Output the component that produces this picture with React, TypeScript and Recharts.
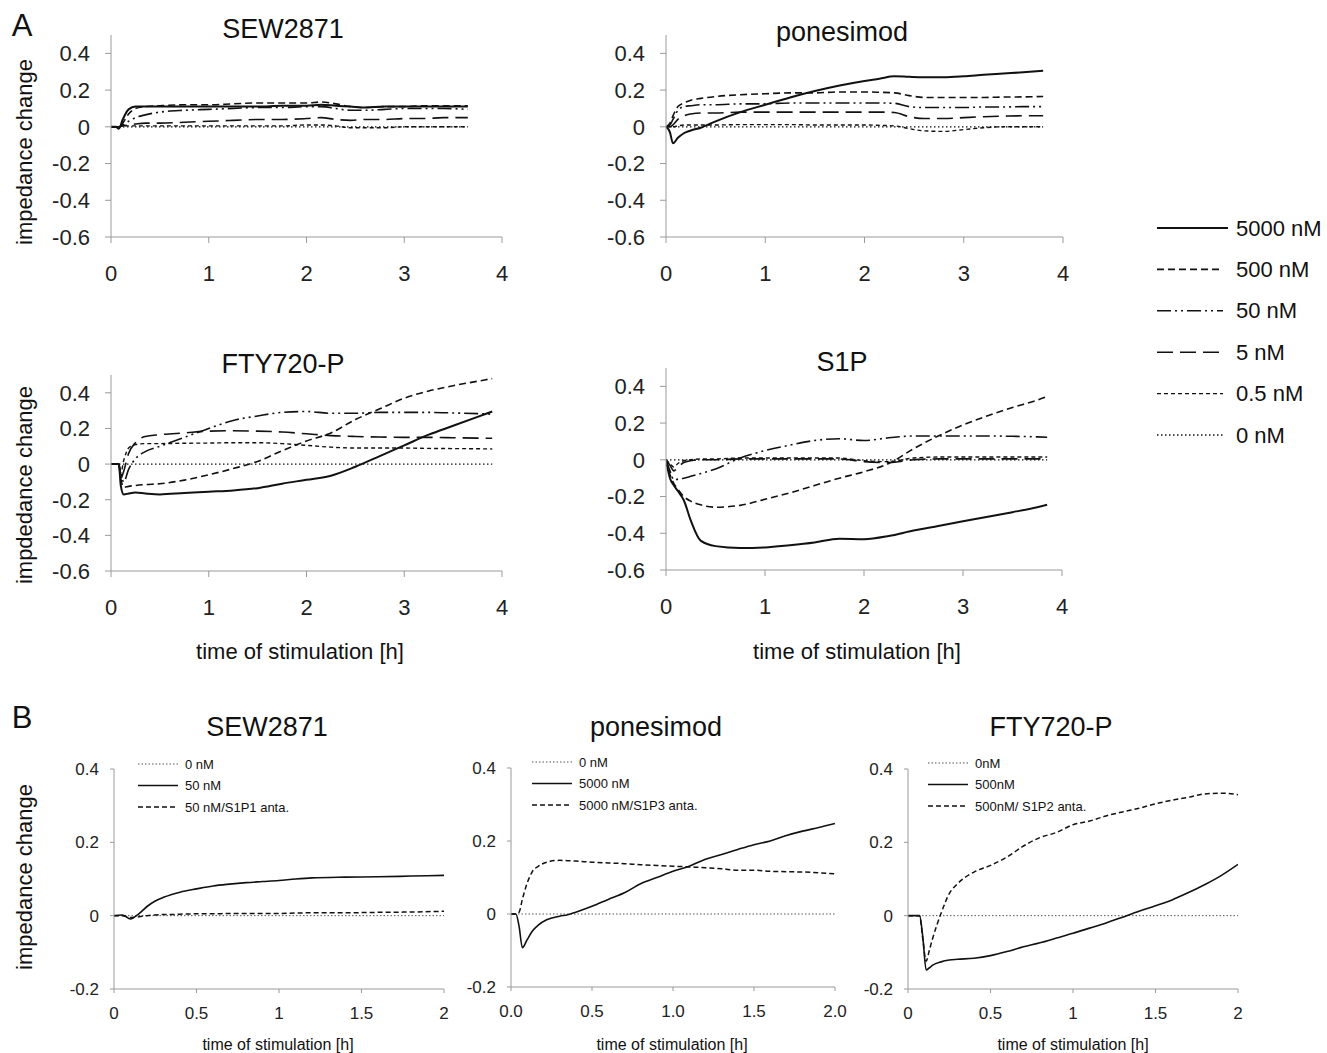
import { LineChart, Line, XAxis, YAxis } from "recharts";

// 軸はグレー、線はすべて黒の線種違い(元図に合わせる)
const AXIS = "#9a9a9a";
const INK = "#111";
const FONT = "'Liberation Sans', Arial, sans-serif";

// ---- A: SEW2871 ----
const T_A_SEW = [0, 0.05, 0.08, 0.12, 0.18, 0.25, 0.35, 0.5, 0.75, 1, 1.25, 1.5, 1.75, 2, 2.15, 2.3, 2.45, 2.6, 2.8, 3, 3.2, 3.4, 3.65];
const A_SEW_5000 = [0, 0, -0.01, 0.04, 0.095, 0.11, 0.11, 0.11, 0.11, 0.11, 0.11, 0.11, 0.115, 0.115, 0.12, 0.115, 0.11, 0.105, 0.11, 0.11, 0.11, 0.11, 0.11];
const A_SEW_500 = [0, 0, 0, 0.02, 0.07, 0.1, 0.11, 0.115, 0.12, 0.12, 0.125, 0.13, 0.13, 0.13, 0.135, 0.125, 0.11, 0.105, 0.11, 0.11, 0.115, 0.115, 0.115];
const A_SEW_50 = [0, 0, 0, 0.01, 0.03, 0.05, 0.065, 0.08, 0.09, 0.095, 0.1, 0.105, 0.105, 0.11, 0.11, 0.1, 0.09, 0.09, 0.095, 0.1, 0.1, 0.1, 0.095];
const A_SEW_5 = [0, 0, 0, 0.005, 0.01, 0.015, 0.02, 0.02, 0.025, 0.03, 0.035, 0.04, 0.04, 0.045, 0.05, 0.04, 0.035, 0.04, 0.04, 0.045, 0.045, 0.05, 0.05];
const A_SEW_05 = [0, 0, 0, 0.005, 0.005, 0.005, 0.005, 0.005, 0.005, 0.005, 0.005, 0.005, 0.005, 0.01, 0.01, 0.005, -0.005, -0.005, -0.005, 0, 0, 0, 0];
const A_SEW_0 = [0, 0, 0, 0, 0, 0, 0, 0, 0, 0, 0, 0, 0, 0, 0, 0, 0, 0, 0, 0, 0, 0, 0];

// ---- A: ponesimod ----
const T_A_PON = [0, 0.04, 0.07, 0.12, 0.18, 0.25, 0.35, 0.5, 0.75, 1, 1.25, 1.5, 1.75, 2, 2.15, 2.3, 2.45, 2.6, 2.8, 3, 3.2, 3.4, 3.6, 3.8];
const A_PON_5000 = [0, -0.03, -0.09, -0.06, -0.035, -0.02, -0.005, 0.03, 0.08, 0.12, 0.16, 0.195, 0.225, 0.25, 0.262, 0.275, 0.272, 0.27, 0.27, 0.275, 0.283, 0.29, 0.297, 0.305];
const A_PON_500 = [0, 0.02, 0.06, 0.11, 0.13, 0.145, 0.155, 0.165, 0.175, 0.18, 0.185, 0.185, 0.19, 0.19, 0.188, 0.185, 0.17, 0.16, 0.16, 0.16, 0.16, 0.162, 0.163, 0.165];
const A_PON_50 = [0, 0.01, 0.04, 0.09, 0.11, 0.115, 0.12, 0.12, 0.125, 0.125, 0.13, 0.13, 0.13, 0.13, 0.13, 0.128, 0.11, 0.105, 0.105, 0.105, 0.108, 0.108, 0.11, 0.11];
const A_PON_5 = [0, 0, 0.01, 0.04, 0.06, 0.07, 0.075, 0.075, 0.08, 0.08, 0.08, 0.08, 0.08, 0.08, 0.08, 0.078, 0.055, 0.045, 0.045, 0.05, 0.055, 0.058, 0.06, 0.06];
const A_PON_05 = [0, 0, 0, 0.005, 0.01, 0.01, 0.01, 0.01, 0.012, 0.012, 0.012, 0.01, 0.01, 0.01, 0.008, 0.005, -0.01, -0.022, -0.025, -0.015, -0.005, 0, 0, 0];
const A_PON_0 = [0, 0, 0, 0, 0, 0, 0, 0, 0, 0, 0, 0, 0, 0, 0, 0, 0, 0, 0, 0, 0, 0, 0, 0];

// ---- A: FTY720-P ----
const T_A_FTY = [0, 0.08, 0.1, 0.13, 0.18, 0.25, 0.35, 0.5, 0.75, 1, 1.25, 1.5, 1.75, 2, 2.25, 2.5, 2.75, 3, 3.25, 3.5, 3.75, 3.9];
const A_FTY_5000 = [0, 0, -0.12, -0.17, -0.165, -0.16, -0.165, -0.17, -0.162, -0.155, -0.148, -0.135, -0.11, -0.088, -0.065, -0.015, 0.045, 0.105, 0.165, 0.215, 0.265, 0.295];
const A_FTY_500 = [0, 0, -0.08, -0.13, -0.125, -0.12, -0.115, -0.11, -0.09, -0.06, -0.025, 0.015, 0.075, 0.13, 0.175, 0.25, 0.31, 0.37, 0.41, 0.44, 0.465, 0.48];
const A_FTY_50 = [0, 0, -0.05, -0.1, -0.03, 0.03, 0.07, 0.1, 0.15, 0.2, 0.245, 0.27, 0.29, 0.295, 0.285, 0.285, 0.29, 0.29, 0.29, 0.287, 0.283, 0.28];
const A_FTY_5 = [0, 0, -0.08, -0.04, 0.06, 0.12, 0.155, 0.165, 0.175, 0.185, 0.187, 0.185, 0.18, 0.17, 0.16, 0.155, 0.152, 0.15, 0.15, 0.148, 0.146, 0.145];
const A_FTY_05 = [0, 0, -0.05, 0.02, 0.09, 0.11, 0.115, 0.115, 0.117, 0.118, 0.12, 0.12, 0.115, 0.105, 0.095, 0.09, 0.09, 0.09, 0.088, 0.087, 0.086, 0.085];
const A_FTY_0 = [0, 0, 0, 0, 0, 0, 0, 0, 0, 0, 0, 0, 0, 0, 0, 0, 0, 0, 0, 0, 0, 0];

// ---- A: S1P ----
const T_A_S1P = [0, 0.04, 0.08, 0.12, 0.18, 0.25, 0.35, 0.5, 0.75, 1, 1.25, 1.5, 1.75, 2, 2.25, 2.5, 2.75, 3, 3.25, 3.5, 3.75, 3.85];
const A_S1P_5000 = [0, -0.1, -0.14, -0.17, -0.22, -0.33, -0.44, -0.47, -0.48, -0.477, -0.465, -0.45, -0.43, -0.432, -0.415, -0.385, -0.36, -0.335, -0.31, -0.285, -0.258, -0.245];
const A_S1P_500 = [0, -0.08, -0.13, -0.16, -0.2, -0.225, -0.245, -0.258, -0.248, -0.215, -0.18, -0.14, -0.1, -0.065, -0.02, 0.06, 0.13, 0.19, 0.24, 0.285, 0.325, 0.345];
const A_S1P_50 = [0, -0.06, -0.11, -0.105, -0.1, -0.09, -0.075, -0.05, 0.01, 0.05, 0.08, 0.105, 0.115, 0.105, 0.12, 0.13, 0.13, 0.13, 0.13, 0.128, 0.125, 0.123];
const A_S1P_5 = [0, -0.03, -0.06, -0.04, -0.015, -0.005, 0, 0, 0.005, 0.005, 0.005, 0.005, 0.005, -0.01, -0.015, 0, 0.005, 0.005, 0.005, 0.005, 0.005, 0.005];
const A_S1P_05 = [0, -0.02, -0.04, -0.02, -0.005, 0, 0.005, 0.005, 0.01, 0.01, 0.01, 0.01, 0.01, -0.005, -0.01, 0.01, 0.015, 0.015, 0.015, 0.015, 0.015, 0.015];
const A_S1P_0 = [0, 0, 0, 0, 0, 0, 0, 0, 0, 0, 0, 0, 0, 0, 0, 0, 0, 0, 0, 0, 0, 0];

// ---- B: SEW2871 (50 nM, S1P1 antagonist) ----
const T_B_SEW = [0, 0.05, 0.1, 0.15, 0.2, 0.25, 0.3, 0.35, 0.4, 0.5, 0.6, 0.7, 0.8, 0.9, 1, 1.1, 1.2, 1.4, 1.6, 1.8, 2];
const B_SEW_0 = [0, 0, 0, 0, 0, 0, 0, 0, 0, 0, 0, 0, 0, 0, 0, 0, 0, 0, 0, 0, 0];
const B_SEW_AG = [0, 0.002, -0.009, 0.005, 0.025, 0.04, 0.05, 0.058, 0.064, 0.073, 0.081, 0.086, 0.09, 0.093, 0.096, 0.1, 0.103, 0.105, 0.106, 0.108, 0.11];
const B_SEW_ANTA = [0, 0, -0.005, -0.003, 0, 0.002, 0.003, 0.003, 0.004, 0.005, 0.005, 0.006, 0.006, 0.006, 0.006, 0.007, 0.008, 0.008, 0.009, 0.01, 0.012];

// ---- B: ponesimod (5000 nM, S1P3 antagonist) ----
const T_B_PON = [0, 0.03, 0.05, 0.07, 0.1, 0.13, 0.17, 0.22, 0.3, 0.35, 0.4, 0.5, 0.6, 0.7, 0.8, 0.9, 1, 1.1, 1.2, 1.3, 1.4, 1.5, 1.6, 1.7, 1.8, 1.9, 2];
const B_PON_0 = [0, 0, 0, 0, 0, 0, 0, 0, 0, 0, 0, 0, 0, 0, 0, 0, 0, 0, 0, 0, 0, 0, 0, 0, 0, 0, 0];
const B_PON_AG = [0, 0, -0.034, -0.092, -0.07, -0.048, -0.03, -0.016, -0.006, -0.002, 0.005, 0.021, 0.04, 0.058, 0.083, 0.1, 0.117, 0.131, 0.15, 0.163, 0.177, 0.19, 0.2, 0.215, 0.227, 0.237, 0.248];
const B_PON_ANTA = [0, 0, 0.005, 0.04, 0.085, 0.115, 0.131, 0.142, 0.147, 0.146, 0.145, 0.142, 0.14, 0.138, 0.135, 0.133, 0.131, 0.129, 0.127, 0.124, 0.12, 0.12, 0.117, 0.116, 0.115, 0.113, 0.11];

// ---- B: FTY720-P (500 nM, S1P2 antagonist) ----
const T_B_FTY = [0, 0.07, 0.09, 0.11, 0.13, 0.15, 0.2, 0.25, 0.3, 0.4, 0.5, 0.6, 0.7, 0.8, 0.9, 1, 1.1, 1.2, 1.3, 1.4, 1.5, 1.6, 1.7, 1.8, 1.9, 2];
const B_FTY_0 = [0, 0, 0, 0, 0, 0, 0, 0, 0, 0, 0, 0, 0, 0, 0, 0, 0, 0, 0, 0, 0, 0, 0, 0, 0, 0];
const B_FTY_AG = [0, 0, -0.06, -0.148, -0.142, -0.135, -0.126, -0.121, -0.119, -0.116, -0.109, -0.098, -0.085, -0.074, -0.061, -0.048, -0.034, -0.02, -0.004, 0.012, 0.027, 0.043, 0.063, 0.085, 0.11, 0.14];
const B_FTY_ANTA = [0, 0, -0.065, -0.124, -0.093, -0.061, 0.006, 0.06, 0.087, 0.119, 0.137, 0.16, 0.19, 0.213, 0.227, 0.248, 0.258, 0.272, 0.283, 0.293, 0.305, 0.315, 0.323, 0.332, 0.334, 0.33];

// ticks
const A_X_TICKS = [0, 1, 2, 3, 4];
const A_Y_TICKS = [-0.6, -0.4, -0.2, 0, 0.2, 0.4];
const B_X_TICKS = [0, 0.5, 1, 1.5, 2];
const B_Y_TICKS = [-0.2, 0, 0.2, 0.4];

// 線種(凡例と共通)
const A_LEGEND = ["5000 nM", "500 nM", "50 nM", "5 nM", "0.5 nM", "0 nM"];
const A_DASH = [undefined, "7 4", "14 4 2 4 2 4", "16 7", "4 3", "1.5 2.5"];
const A_WIDTH = [2, 1.6, 1.6, 1.6, 1.4, 1.3];

type Series = { values: number[]; dash?: string; width: number; color?: string };
type Box = { x0: number; x1: number; yTop: number; yBot: number };

function Panel({
  time,
  series,
  box,
  xDomain,
  xTicks,
  yDomain,
  yTicks,
  fontSize,
  tickLen,
  xMargin,
  yMargin,
  xFmt,
}: {
  time: number[];
  series: Series[];
  box: Box;
  xDomain: [number, number];
  xTicks: number[];
  yDomain: [number, number];
  yTicks: number[];
  fontSize: number;
  tickLen: number;
  xMargin: number;
  yMargin: number;
  xFmt?: (v: number) => string;
}) {
  const YW = 80;
  const XH = 50;
  const data = time.map((t, i) => {
    const row: Record<string, number> = { t };
    series.forEach((s, k) => (row["s" + k] = s.values[i]));
    return row;
  });
  const width = box.x1 - box.x0 + YW + 24;
  const height = box.yBot - box.yTop + 10 + XH;
  const tick = { fontSize, fill: "#222", fontFamily: FONT };
  return (
    <div style={{ position: "absolute", left: box.x0 - YW, top: box.yTop - 10 }}>
      <LineChart width={width} height={height} data={data} margin={{ top: 10, right: 24, left: 0, bottom: 0 }}>
        <XAxis
          type="number"
          dataKey="t"
          domain={xDomain}
          ticks={xTicks}
          allowDataOverflow
          height={XH}
          stroke={AXIS}
          tickSize={tickLen}
          tickMargin={xMargin}
          tick={tick}
          tickFormatter={xFmt}
        />
        <YAxis
          type="number"
          domain={yDomain}
          ticks={yTicks}
          allowDataOverflow
          width={YW}
          stroke={AXIS}
          tickSize={tickLen}
          tickMargin={yMargin}
          tick={tick}
        />
        {series.map((s, k) => (
          <Line
            key={k}
            type="monotone"
            dataKey={"s" + k}
            stroke={s.color ?? INK}
            strokeWidth={s.width}
            strokeDasharray={s.dash}
            dot={false}
            activeDot={false}
            isAnimationActive={false}
          />
        ))}
      </LineChart>
    </div>
  );
}

function aSeries(vals: number[][]): Series[] {
  return vals.map((v, i) => ({ values: v, dash: A_DASH[i], width: A_WIDTH[i] }));
}

function bSeries(zero: number[], ag: number[], anta: number[]): Series[] {
  return [
    { values: zero, dash: "1.5 2", width: 1, color: "#555" },
    { values: ag, width: 1.6 },
    { values: anta, dash: "5 3", width: 1.5 },
  ];
}

function Txt({ x, y, size, children, rotate }: { x: number; y: number; size: number; children: string; rotate?: boolean }) {
  return (
    <div
      style={{
        position: "absolute",
        left: x,
        top: y,
        fontSize: size,
        fontFamily: FONT,
        color: "#111",
        whiteSpace: "nowrap",
        lineHeight: 1,
        transform: `translate(-50%, -50%)${rotate ? " rotate(-90deg)" : ""}`,
      }}
    >
      {children}
    </div>
  );
}

function BLegend({ x, y, labels }: { x: number; y: number; labels: string[] }) {
  const dashes = ["1.5 2", undefined, "5 3"];
  const colors = ["#555", INK, INK];
  return (
    <svg style={{ position: "absolute", left: x, top: y }} width={200} height={60}>
      {labels.map((l, i) => (
        <g key={l}>
          <line x1={0} x2={40} y1={8 + i * 21.5} y2={8 + i * 21.5} stroke={colors[i]} strokeWidth={i === 0 ? 1 : 1.4} strokeDasharray={dashes[i]} />
          <text x={47} y={8 + i * 21.5} dominantBaseline="central" fontSize={13} fontFamily={FONT} fill="#111">
            {l}
          </text>
        </g>
      ))}
    </svg>
  );
}

export default function App() {
  const aDom: [number, number] = [-0.6, 0.5];
  const bDom: [number, number] = [-0.2, 0.4];
  const aCommon = { xDomain: [0, 4] as [number, number], xTicks: A_X_TICKS, yDomain: aDom, yTicks: A_Y_TICKS, fontSize: 22, tickLen: 6, xMargin: 22, yMargin: 15 };
  const bCommon = { xDomain: [0, 2] as [number, number], xTicks: B_X_TICKS, yDomain: bDom, yTicks: B_Y_TICKS, fontSize: 17, tickLen: 4, xMargin: 14, yMargin: 11 };

  return (
    <div style={{ position: "absolute", left: 0, top: 0, width: 1327, height: 1053, background: "#fff", overflow: "hidden" }}>
      <Txt x={22} y={25} size={31}>A</Txt>
      <Txt x={22} y={717} size={31}>B</Txt>

      <Txt x={283} y={29} size={27}>SEW2871</Txt>
      <Txt x={842} y={32} size={27}>ponesimod</Txt>
      <Txt x={283} y={364} size={27}>FTY720-P</Txt>
      <Txt x={842} y={362} size={27}>S1P</Txt>

      <Txt x={25} y={152} size={22} rotate>impedance change</Txt>
      <Txt x={25} y={485} size={22} rotate>impdedance change</Txt>
      <Txt x={300} y={652} size={22}>time of stimulation [h]</Txt>
      <Txt x={857} y={652} size={22}>time of stimulation [h]</Txt>

      <Panel time={T_A_SEW} series={aSeries([A_SEW_5000, A_SEW_500, A_SEW_50, A_SEW_5, A_SEW_05, A_SEW_0])} box={{ x0: 111, x1: 502, yTop: 35, yBot: 237 }} {...aCommon} />
      <Panel time={T_A_PON} series={aSeries([A_PON_5000, A_PON_500, A_PON_50, A_PON_5, A_PON_05, A_PON_0])} box={{ x0: 666, x1: 1063, yTop: 35, yBot: 237 }} {...aCommon} />
      <Panel time={T_A_FTY} series={aSeries([A_FTY_5000, A_FTY_500, A_FTY_50, A_FTY_5, A_FTY_05, A_FTY_0])} box={{ x0: 111, x1: 502, yTop: 375, yBot: 571 }} {...aCommon} />
      <Panel time={T_A_S1P} series={aSeries([A_S1P_5000, A_S1P_500, A_S1P_50, A_S1P_5, A_S1P_05, A_S1P_0])} box={{ x0: 666, x1: 1062, yTop: 368, yBot: 570 }} {...aCommon} />

      <svg style={{ position: "absolute", left: 1150, top: 205 }} width={177} height={250}>
        {A_LEGEND.map((l, i) => (
          <g key={l}>
            <line x1={7} x2={i === 0 ? 78 : 73} y1={23 + i * 41.4} y2={23 + i * 41.4} stroke={INK} strokeWidth={A_WIDTH[i]} strokeDasharray={A_DASH[i]} />
            <text x={86} y={23 + i * 41.4} dominantBaseline="central" fontSize={22} fontFamily={FONT} fill="#111">
              {l}
            </text>
          </g>
        ))}
      </svg>

      <Txt x={267} y={727} size={27}>SEW2871</Txt>
      <Txt x={656} y={727} size={27}>ponesimod</Txt>
      <Txt x={1051} y={727} size={27}>FTY720-P</Txt>
      <Txt x={25} y={877} size={22} rotate>impedance change</Txt>
      <Txt x={278} y={1045} size={16}>time of stimulation [h]</Txt>
      <Txt x={672} y={1045} size={16}>time of stimulation [h]</Txt>
      <Txt x={1073} y={1045} size={16}>time of stimulation [h]</Txt>

      <Panel time={T_B_SEW} series={bSeries(B_SEW_0, B_SEW_AG, B_SEW_ANTA)} box={{ x0: 114, x1: 444, yTop: 769, yBot: 989 }} {...bCommon} />
      <Panel time={T_B_PON} series={bSeries(B_PON_0, B_PON_AG, B_PON_ANTA)} box={{ x0: 511, x1: 835, yTop: 768, yBot: 987 }} {...bCommon} xFmt={(v: number) => v.toFixed(1)} />
      <Panel time={T_B_FTY} series={bSeries(B_FTY_0, B_FTY_AG, B_FTY_ANTA)} box={{ x0: 908, x1: 1238, yTop: 769, yBot: 989 }} {...bCommon} />

      <BLegend x={138} y={756} labels={["0 nM", "50 nM", "50 nM/S1P1 anta."]} />
      <BLegend x={532} y={754} labels={["0 nM", "5000 nM", "5000 nM/S1P3 anta."]} />
      <BLegend x={928} y={755} labels={["0nM", "500nM", "500nM/ S1P2 anta."]} />
    </div>
  );
}
